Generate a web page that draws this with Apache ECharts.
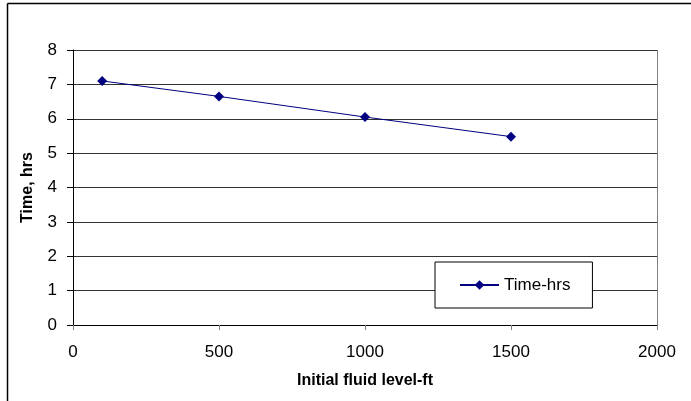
<!DOCTYPE html>
<html><head><meta charset="utf-8">
<script src="https://cdn.jsdelivr.net/npm/echarts@6/dist/echarts.min.js"></script>
<style>html,body{margin:0;padding:0;background:#fff}#c{width:691px;height:401px}</style>
</head><body><div id="c"></div>
<script>
const xValues = [100, 500, 1000, 1500];
const timeHrs = [7.1, 6.65, 6.05, 5.48];
const seriesName = 'Time-hrs';
const xTitle = 'Initial fluid level-ft';
const yTitle = 'Time, hrs';

const chart = echarts.init(document.getElementById('c'));
const font = 'Liberation Sans, Arial, sans-serif';
chart.setOption({
  animation: false,
  backgroundColor: '#fff',
  graphic: [
    {type: 'line', shape: {x1: 7.5, y1: 3.5, x2: 691, y2: 3.5}, style: {stroke: '#000', lineWidth: 1.5}, z: 100},
    {type: 'line', shape: {x1: 7.5, y1: 3.5, x2: 7.5, y2: 401}, style: {stroke: '#000', lineWidth: 1.5}, z: 100},
    {type: 'line', shape: {x1: 657.5, y1: 50, x2: 657.5, y2: 325}, style: {stroke: '#808080', lineWidth: 1}, z: 1}
  ],
  grid: {left: 73, top: 50, width: 584, height: 275, containLabel: false},
  legend: {
    data: [seriesName], left: 435, top: 262,
    orient: 'horizontal', padding: [14, 22, 14, 24], itemWidth: 39, itemHeight: 12, itemGap: 0,
    backgroundColor: '#fff', borderColor: '#000', borderWidth: 1, borderRadius: 0,
    textStyle: {fontFamily: font, fontSize: 17, color: '#000', lineHeight: 18}
  },
  xAxis: {
    type: 'value', min: 0, max: 2000, interval: 500,
    name: xTitle, nameLocation: 'middle', nameGap: 48,
    nameTextStyle: {fontFamily: font, fontSize: 16, fontWeight: 'bold', color: '#000'},
    axisLine: {show: true, lineStyle: {color: '#000', width: 1}},
    axisTick: {show: true, inside: false, length: 5, lineStyle: {color: '#808080'}},
    axisLabel: {fontFamily: font, fontSize: 17, color: '#000', margin: 19, formatter: v => String(v)},
    splitLine: {show: false}
  },
  yAxis: {
    type: 'value', min: 0, max: 8, interval: 1,
    name: yTitle, nameLocation: 'middle', nameGap: 37,
    nameTextStyle: {fontFamily: font, fontSize: 16, fontWeight: 'bold', color: '#000'},
    axisLine: {show: true, lineStyle: {color: '#000', width: 1}},
    axisTick: {show: true, inside: false, length: 6, lineStyle: {color: '#000'}},
    axisLabel: {fontFamily: font, fontSize: 17, color: '#000', margin: 16, formatter: v => String(v)},
    splitLine: {show: true, lineStyle: {color: '#333', width: 1}}
  },
  series: [{
    name: seriesName, type: 'line',
    data: xValues.map((x, i) => [x, timeHrs[i]]),
    symbol: 'diamond', symbolSize: 10, showSymbol: true,
    lineStyle: {color: '#000080', width: 1},
    itemStyle: {color: '#000080'}
  }]
});
</script></body></html>
